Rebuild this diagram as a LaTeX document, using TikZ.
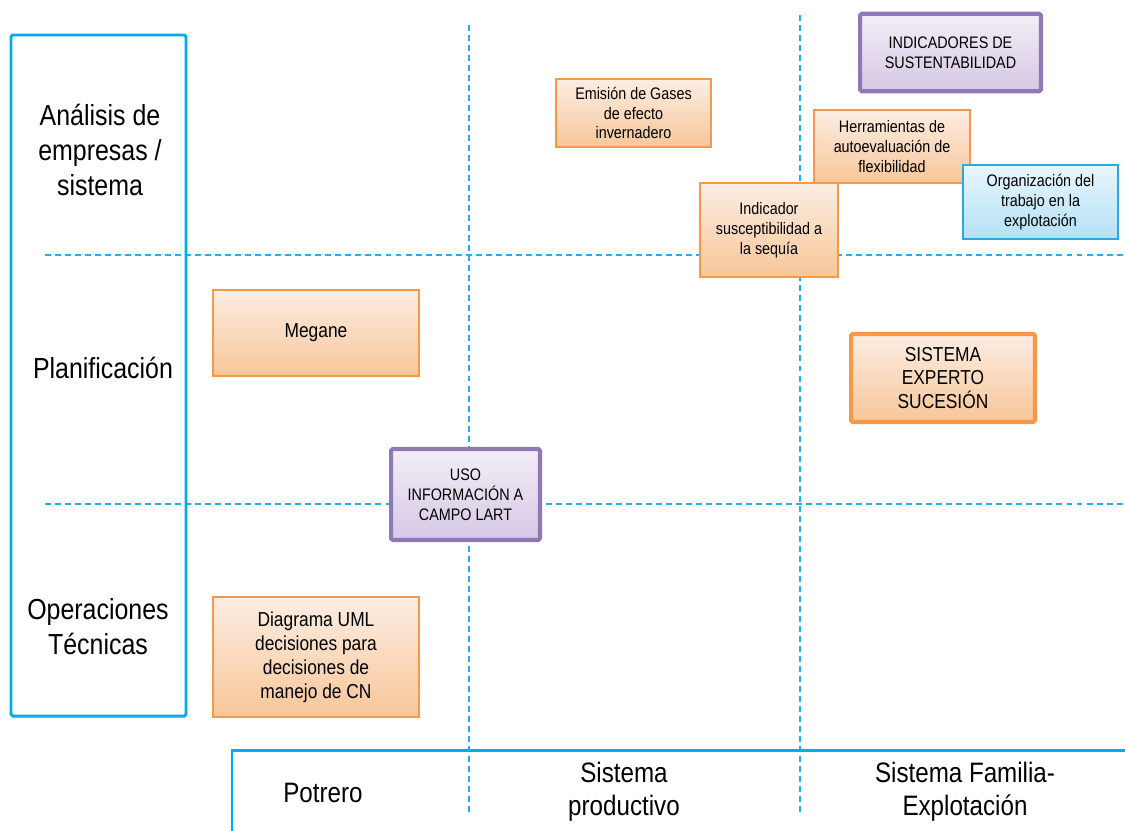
\documentclass[tikz,border=0pt]{standalone}
\usepackage{fontspec}
\setmainfont{Liberation Sans}[FakeStretch=0.86]
\usetikzlibrary{positioning}
\definecolor{frameblue}{RGB}{0,172,236}
\definecolor{dashblue}{RGB}{40,172,232}
\definecolor{orangeline}{RGB}{247,152,72}
\definecolor{orangetop}{RGB}{252,237,227}
\definecolor{orangebot}{RGB}{247,198,152}
\definecolor{purpleline}{RGB}{142,120,182}
\definecolor{purpletop}{RGB}{242,238,246}
\definecolor{purplebot}{RGB}{214,200,228}
\definecolor{bluetop}{RGB}{232,246,253}
\definecolor{bluebot}{RGB}{180,224,246}
\definecolor{blueline}{RGB}{42,168,224}
\tikzset{
  smallfont/.style={font=\fontsize{9.5}{11.3}\selectfont},
  midfont/.style={font=\fontsize{11.5}{13.6}\selectfont},
  box/.style={draw, align=center, inner sep=2pt},
  orangebox/.style={box, draw=orangeline, line width=0.8pt, top color=orangetop, bottom color=orangebot},
  orangethick/.style={orangebox, line width=2.3pt, rounded corners=1pt},
  purplebox/.style={box, draw=purpleline, line width=2.3pt, rounded corners=1pt, top color=purpletop, bottom color=purplebot},
  bluebox/.style={box, draw=blueline, line width=0.8pt, top color=bluetop, bottom color=bluebot},
  rowlabel/.style={align=center, font=\fontsize{16.5}{20}\selectfont},
  collabel/.style={align=center, font=\fontsize{16}{18.7}\selectfont},
  frame/.style={draw=frameblue, line width=1.7pt},
  grid/.style={draw=dashblue, line width=0.6pt, dash pattern=on 3.4pt off 2.3pt}
}
\begin{document}
\begin{tikzpicture}[x=0.02cm, y=-0.02cm]
\useasboundingbox (0,0) rectangle (1125,831);

\draw[grid] (45,255) -- (1125,255);
\draw[grid] (45,504) -- (1125,504);
\draw[grid] (469,25) -- (469,815);
\draw[grid] (800,15) -- (800,815);

\draw[frame, rounded corners=1pt] (11,35) rectangle (186,716);
\draw[frame] (232,831) -- (232,750) -- (1125,750);

\node[rowlabel] (rowana) at (100,150) {Análisis de\\empresas /\\sistema};
\node[rowlabel] (rowplan) at (103,368) {Planificación};
\node[rowlabel] (rowops) at (98,627) {Operaciones\\Técnicas};

\node[collabel] (colpot) at (323,793) {Potrero};
\node[collabel] (colsis) at (624,792) {Sistema\\productivo};
\node[collabel] (colfam) at (965,792) {Sistema Familia-\\Explotación};

\node[orangebox, smallfont, minimum width=3.1cm, minimum height=1.36cm] (emision) at (633.5,113) {Emisión de Gases\\de efecto\\invernadero};
\node[purplebox, smallfont, minimum width=3.62cm, minimum height=1.55cm] (indsust) at (950.5,52.5) {INDICADORES DE\\SUSTENTABILIDAD};
\node[orangebox, smallfont, minimum width=3.12cm, minimum height=1.46cm] (herram) at (892,146.5) {Herramientas de\\autoevaluación de\\flexibilidad};
\node[bluebox, smallfont, minimum width=3.1cm, minimum height=1.48cm] (organiz) at (1040.5,202) {Organización del\\trabajo en la\\explotación};
\node[orangebox, smallfont, minimum width=2.76cm, minimum height=1.88cm] (indseq) at (769,230) {Indicador\\susceptibilidad a\\la sequía};

\node[orangebox, midfont, minimum width=4.12cm, minimum height=1.72cm] (megane) at (316,333) {Megane};
\node[orangethick, midfont, minimum width=3.68cm, minimum height=1.76cm] (sisexp) at (943,378) {SISTEMA\\EXPERTO\\SUCESIÓN};
\node[purplebox, smallfont, minimum width=2.98cm, minimum height=1.82cm] (usoinfo) at (465.5,494.5) {USO\\INFORMACIÓN A\\CAMPO LART};
\node[orangebox, midfont, minimum width=4.12cm, minimum height=2.4cm] (uml) at (316,657) {Diagrama UML\\decisiones para\\decisiones de\\manejo de CN};
\end{tikzpicture}
\end{document}
